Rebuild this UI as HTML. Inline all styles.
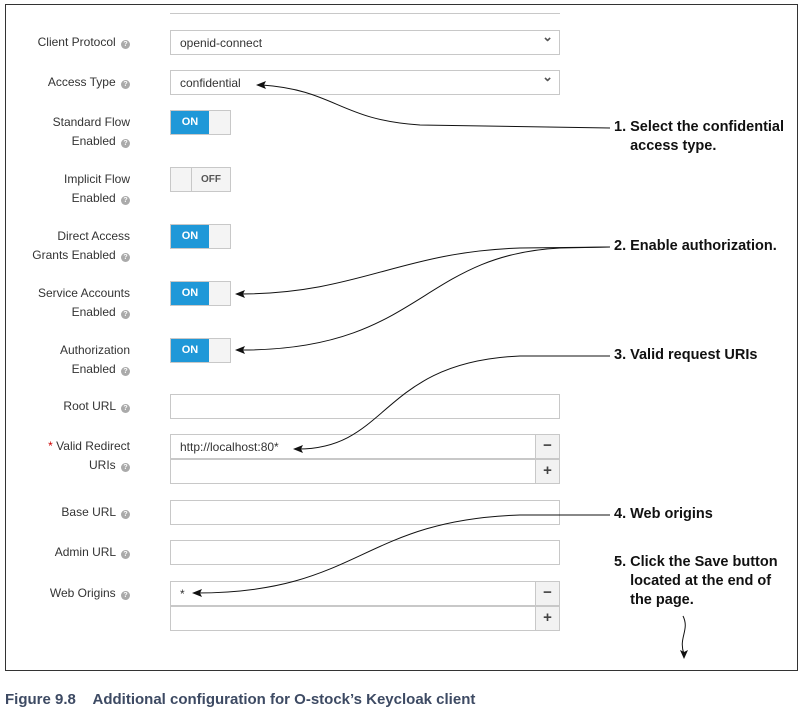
<!DOCTYPE html>
<html><head><meta charset="utf-8"><style>
*{margin:0;padding:0;box-sizing:border-box}
body{width:805px;height:714px;background:#fff;position:relative;overflow:hidden;font-family:"Liberation Sans",sans-serif}
.frame{position:absolute;left:5px;top:4px;width:793px;height:667px;border:1.5px solid #333}
.lbl{position:absolute;right:675px;font-size:12px;color:#333;text-align:right;white-space:nowrap;line-height:19px}
.q{display:inline-block;width:9px;height:9px;border-radius:50%;background:#aaa;color:#fff;font-size:7px;line-height:9px;text-align:center;font-weight:bold;vertical-align:0px;margin-left:2px}
.in{position:absolute;left:170px;width:390px;height:25px;border:1px solid #c8c8c8;font-size:12px;color:#333;padding:5px 9px;line-height:14px}
.sel:after{content:"⌄";position:absolute;right:6px;top:-1px;font-size:13px;color:#555;font-weight:bold}
.tg{position:absolute;left:170px;width:61px;height:25px;border:1px solid #c8c8c8;background:#f4f4f4}
.on{position:absolute;left:0;top:0;width:38px;height:23px;background:#1f98d8;color:#fff;font-size:11px;font-weight:bold;line-height:23px;text-align:center}
.off{position:absolute;right:0;top:0;width:39px;height:23px;border-left:1px solid #c8c8c8;color:#555;font-size:10px;font-weight:bold;line-height:23px;text-align:center}
.btn{position:absolute;right:-1px;top:-1px;width:25px;height:25px;border:1px solid #c8c8c8;background:#f2f2f2;text-align:center;font-weight:bold;color:#444;font-size:15px;line-height:22px}
.ann{position:absolute;left:614px;font-family:"Liberation Sans Narrow","Liberation Sans",sans-serif;font-weight:bold;font-size:14.5px;color:#111;line-height:19px;white-space:nowrap}
.cap{position:absolute;left:5px;top:691px;font-family:"Liberation Sans Narrow","Liberation Sans",sans-serif;font-weight:bold;font-size:15px;color:#3d4a63}
</style></head><body>
<div class="frame"></div>
<div style="position:absolute;left:170px;top:13px;width:390px;height:1px;background:#c8c8c8"></div>

<div class="lbl" style="top:33px">Client Protocol <span class="q">?</span></div>
<div class="in sel" style="top:30px">openid-connect</div>
<div class="lbl" style="top:73px">Access Type <span class="q">?</span></div>
<div class="in sel" style="top:70px">confidential</div>

<div class="lbl" style="top:113px">Standard Flow<br>Enabled <span class="q">?</span></div>
<div class="tg" style="top:110px"><div class="on">ON</div></div>
<div class="lbl" style="top:170px">Implicit Flow<br>Enabled <span class="q">?</span></div>
<div class="tg" style="top:167px"><div class="off">OFF</div></div>
<div class="lbl" style="top:227px">Direct Access<br>Grants Enabled <span class="q">?</span></div>
<div class="tg" style="top:224px"><div class="on">ON</div></div>
<div class="lbl" style="top:284px">Service Accounts<br>Enabled <span class="q">?</span></div>
<div class="tg" style="top:281px"><div class="on">ON</div></div>
<div class="lbl" style="top:341px">Authorization<br>Enabled <span class="q">?</span></div>
<div class="tg" style="top:338px"><div class="on">ON</div></div>

<div class="lbl" style="top:397px">Root URL <span class="q">?</span></div>
<div class="in" style="top:394px"></div>
<div class="lbl" style="top:437px"><span style="color:#c00">*</span> Valid Redirect<br>URIs <span class="q">?</span></div>
<div class="in" style="top:434px">http://localhost:80*<div class="btn">−</div></div>
<div class="in" style="top:459px"><div class="btn">+</div></div>
<div class="lbl" style="top:503px">Base URL <span class="q">?</span></div>
<div class="in" style="top:500px"></div>
<div class="lbl" style="top:543px">Admin URL <span class="q">?</span></div>
<div class="in" style="top:540px"></div>
<div class="lbl" style="top:584px">Web Origins <span class="q">?</span></div>
<div class="in" style="top:581px">*<div class="btn">−</div></div>
<div class="in" style="top:606px"><div class="btn">+</div></div>

<div class="ann" style="top:118px">1. Select the confidential<br>&nbsp;&nbsp;&nbsp;&nbsp;access type.</div>
<div class="ann" style="top:237px">2. Enable authorization.</div>
<div class="ann" style="top:346px">3. Valid request URIs</div>
<div class="ann" style="top:505px">4. Web origins</div>
<div class="ann" style="top:553px">5. Click the Save button<br>&nbsp;&nbsp;&nbsp;&nbsp;located at the end of<br>&nbsp;&nbsp;&nbsp;&nbsp;the page.</div>

<svg width="805" height="714" style="position:absolute;left:0;top:0">
<g fill="none" stroke="#111" stroke-width="1">
<path d="M610,128 L420,125 C340,120 335,90 262,85"/>
<path d="M610,247 L520,248 C400,252 360,293 242,294"/>
<path d="M610,247 L560,248 C420,255 420,350 242,350"/>
<path d="M610,356 L520,356 C380,362 390,449 298,449"/>
<path d="M610,515 L520,515 C360,520 360,593 196,593"/>
<path d="M683,616 C690,630 678,638 684,654"/>
</g>
<path d="M256,85 L266,81 L264,85 L266,89z" fill="#111"/>
<path d="M235,294 L245,290 L243,294 L245,298z" fill="#111"/>
<path d="M235,350 L245,346 L243,350 L245,354z" fill="#111"/>
<path d="M293,449 L303,445 L301,449 L303,453z" fill="#111"/>
<path d="M192,593 L202,589 L200,593 L202,597z" fill="#111"/>
<path d="M684,659 L680,650 L684,652 L688,650z" fill="#111"/>
</svg>

<div class="cap">Figure 9.8&nbsp;&nbsp;&nbsp;&nbsp;Additional configuration for O-stock’s Keycloak client</div>
</body></html>
